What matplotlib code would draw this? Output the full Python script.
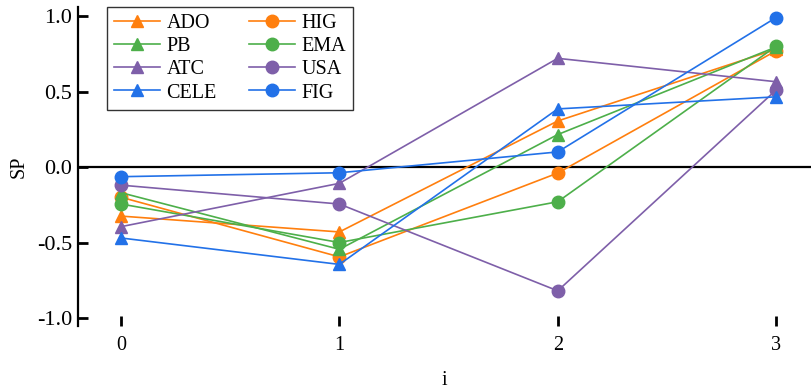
import matplotlib
matplotlib.use("Agg")
import matplotlib.pyplot as plt

x = [0, 1, 2, 3]
ADO = [-0.325, -0.43, 0.305, 0.78]
HIG = [-0.20, -0.595, -0.04, 0.77]
PB = [-0.17, -0.545, 0.215, 0.795]
EMA = [-0.245, -0.50, -0.23, 0.80]
ATC = [-0.395, -0.108, 0.72, 0.565]
USA = [-0.12, -0.245, -0.82, 0.51]
CELE = [-0.47, -0.645, 0.385, 0.465]
FIG = [-0.064, -0.038, 0.10, 0.99]
xticks = [0, 1, 2, 3]
yticks = [-1.0, -0.5, 0.0, 0.5, 1.0]

orange = "#FF7F0E"
green = "#4DAF4A"
purple = "#7E5FA9"
blue = "#2271E8"

plt.rcParams['font.family'] = ['Liberation Serif', 'DejaVu Serif']
plt.rcParams['axes.unicode_minus'] = False

FS = 14.5
TFS = 16
fig = plt.figure(figsize=(8.11, 3.90), dpi=100)
ax = fig.add_axes([78/811, 1-326/390, 1-78/811, (326-7)/390])

series = [
    ("ADO", ADO, orange, "^"), ("HIG", HIG, orange, "o"),
    ("PB", PB, green, "^"), ("EMA", EMA, green, "o"),
    ("ATC", ATC, purple, "^"), ("USA", USA, purple, "o"),
    ("CELE", CELE, blue, "^"), ("FIG", FIG, blue, "o"),
]
ax.axhline(0, color="black", lw=1.6, zorder=1)
lines = {}
for name, vals, c, m in series:
    ln, = ax.plot(x, vals, color=c, marker=m, markersize=9, lw=1.2, label=name, zorder=3)
    lines[name] = ln

ax.set_xlim(-0.197, 3.16)
ax.set_ylim(-1.053, 1.06)
ax.set_xticks(xticks)
ax.set_yticks(yticks)
ax.set_yticklabels([f"{v:.1f}" for v in yticks])
for s in ["top", "right", "bottom"]:
    ax.spines[s].set_visible(False)
ax.spines["left"].set_linewidth(1.6)
ax.tick_params(axis="both", direction="in", length=7, width=2, labelsize=TFS)
ax.tick_params(axis="x", labelsize=FS, pad=7)
ax.tick_params(axis="y", pad=4)
ax.set_xlabel("i", fontsize=FS, labelpad=12)
ax.set_ylabel("SP", fontsize=FS, labelpad=6)

order = ["ADO", "PB", "ATC", "CELE", "HIG", "EMA", "USA", "FIG"]
leg = ax.legend([lines[n] for n in order], order, ncol=2, loc="upper left",
                bbox_to_anchor=(29/733, 1.0),
                fontsize=FS, handlelength=2.3, handletextpad=0.3,
                columnspacing=1.6, labelspacing=0.2, borderpad=0.35,
                borderaxespad=0.0,
                fancybox=False, framealpha=1, edgecolor="#333333")
leg.get_frame().set_linewidth(1.0)

fig.savefig("out.png", dpi=100)
